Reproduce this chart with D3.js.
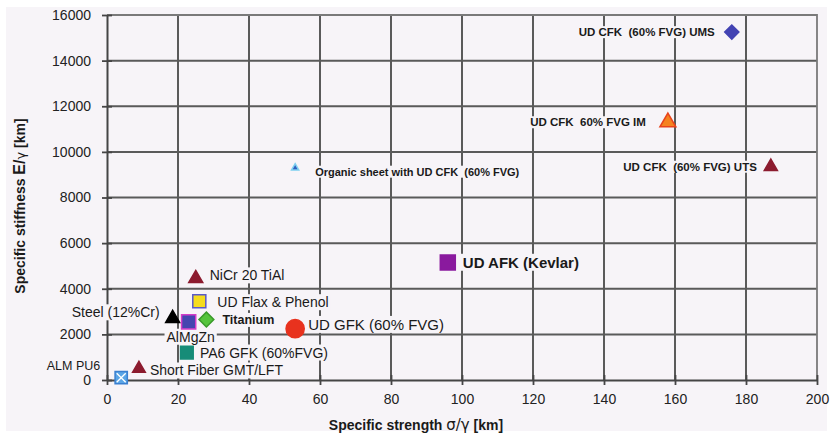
<!DOCTYPE html>
<html>
<head>
<meta charset="utf-8">
<script src="https://cdn.jsdelivr.net/npm/d3@7"></script>
<style>
  body { margin: 0; background: #ffffff; }
  svg text { font-family: "Liberation Sans", Arial, sans-serif; white-space: pre; }
</style>
</head>
<body>
<div id="chart"></div>
<script>
// SPECIFIC STIFFNESS vs SPECIFIC STRENGTH

// Data

var materials = ["UD CFK  (60% FVG) UMS", "UD CFK  60% FVG IM", "UD CFK  (60% FVG) UTS",
                 "Organic sheet with UD CFK  (60% FVG)", "UD AFK (Kevlar)", "NiCr 20 TiAl",
                 "UD Flax & Phenol", "Steel (12%Cr)", "AlMgZn", "Titanium", "UD GFK (60% FVG)",
                 "PA6 GFK (60%FVG)", "Short Fiber GMT/LFT", "ALM PU6"];
var strength  = [176, 158, 187, 53, 96, 25, 26, 18.5, 23, 28, 53, 22.5, 9, 4];          // sigma/gamma [km]
var stiffness = [15250, 11300, 9350, 9300, 5150, 4450, 3450, 2700, 2550, 2650, 2250, 1200, 500, 100]; // E/gamma [km]

var xTicks = [0, 20, 40, 60, 80, 100, 120, 140, 160, 180, 200];
var yTicks = [0, 2000, 4000, 6000, 8000, 10000, 12000, 14000, 16000];

// Marker + label styling (kept apart from the data)

var style = {
  "UD CFK  (60% FVG) UMS":              {shape: "diamond",  size: 100, fill: "#4343b3", stroke: "#4343b3", lx: -17, ly: 0,  anchor: "end",    font: 11.5, weight: "bold"},
  "UD CFK  60% FVG IM":                 {shape: "triangle", size: 110, fill: "#f5821f", stroke: "#e8431c", lx: -22, ly: 0,  anchor: "end",    font: 11.5, weight: "bold"},
  "UD CFK  (60% FVG) UTS":              {shape: "triangle", size: 75,  fill: "#8c1b2f", stroke: "#8c1b2f", lx: -14, ly: 0,  anchor: "end",    font: 11.5, weight: "bold"},
  "Organic sheet with UD CFK  (60% FVG)": {shape: "triangle", size: 22,  fill: "#2f5fc0", stroke: "#7fd0f0", lx: 20,  ly: 4,  anchor: "start",  font: 11, weight: "bold"},
  "UD AFK (Kevlar)":                    {shape: "square",   size: 225, fill: "#8a1a9e", stroke: "#8a1a9e", lx: 15,  ly: 0,  anchor: "start",  font: 15, weight: "bold"},
  "NiCr 20 TiAl":                       {shape: "triangle", size: 85,  fill: "#8c1b2f", stroke: "#8c1b2f", lx: 14,  ly: -3, anchor: "start",  font: 14, weight: "normal"},
  "UD Flax & Phenol":                   {shape: "square",   size: 170, fill: "#f5dc1e", stroke: "#5a5ac8", lx: 18,  ly: 1,  anchor: "start",  font: 14, weight: "normal"},
  "Steel (12%Cr)":                      {shape: "triangle", size: 85,  fill: "#000000", stroke: "#000000", lx: -13, ly: -6, anchor: "end",    font: 14, weight: "normal"},
  "AlMgZn":                             {shape: "square",   size: 200, fill: "#4545b0", stroke: "#d43cc8", lx: 2,   ly: 15, anchor: "middle", font: 14, weight: "normal"},
  "Titanium":                           {shape: "diamond",  size: 110, fill: "#55c43c", stroke: "#3a9a2a", lx: 16,  ly: 0,  anchor: "start",  font: 12.5, weight: "bold"},
  "UD GFK (60% FVG)":                   {shape: "circle",   size: 260, fill: "#e8321e", stroke: "#e8321e", lx: 13,  ly: -4, anchor: "start",  font: 15, weight: "normal"},
  "PA6 GFK (60%FVG)":                   {shape: "square",   size: 160, fill: "#168c78", stroke: "#168c78", lx: 13,  ly: 0,  anchor: "start",  font: 14, weight: "normal"},
  "Short Fiber GMT/LFT":                {shape: "triangle", size: 70,  fill: "#8c1b2f", stroke: "#8c1b2f", lx: 11,  ly: 2,  anchor: "start",  font: 14, weight: "normal"},
  "ALM PU6":                            {shape: "square",   size: 150, fill: "#5aa5e6", stroke: "#3a7fd0", lx: -21, ly: -12, anchor: "end",   font: 12.5, weight: "normal"}
};

var shapes = {
  diamond: d3.symbolSquare,      // rotated 45 degrees below
  square: d3.symbolSquare,
  triangle: d3.symbolTriangle,
  circle: d3.symbolCircle
};

// Chart variables

var W = 834, H = 435;
var margin = {top: 15, right: 17, bottom: 55, left: 107};
var width = W - margin.left - margin.right;
var height = H - margin.top - margin.bottom;
var bg = "#f7f4f8";

var data = materials.map(function(m, i) {
  return {name: m, s: strength[i], e: stiffness[i]};
});

var svg = d3.select("#chart").append("svg")
    .attr("width", W)
    .attr("height", H);

// Figure background
svg.append("rect")
    .attr("x", 6).attr("y", 7)
    .attr("width", 821).attr("height", 424)
    .attr("fill", bg);

var chart = svg.append("g")
    .attr("transform", "translate(" + margin.left + "," + margin.top + ")");

// Scales

var x = d3.scaleLinear().domain([0, 200]).range([0, width]);
var y = d3.scaleLinear().domain([0, 16000]).range([height, 0]);

// Grid

chart.append("g")
    .selectAll("line")
    .data(xTicks.slice(1, -1))
    .enter().append("line")
    .attr("x1", function(d) { return x(d); })
    .attr("x2", function(d) { return x(d); })
    .attr("y1", 0).attr("y2", height)
    .attr("stroke", "#5a5a5a")
    .attr("stroke-width", 2);

chart.append("g")
    .selectAll("line")
    .data(yTicks.slice(1, -1))
    .enter().append("line")
    .attr("x1", 0).attr("x2", width)
    .attr("y1", function(d) { return y(d); })
    .attr("y2", function(d) { return y(d); })
    .attr("stroke", "#5a5a5a")
    .attr("stroke-width", 2);

// Border (top / right)
chart.append("path")
    .attr("d", "M0,0H" + width + "V" + height)
    .attr("fill", "none")
    .attr("stroke", "#7a7a7a")
    .attr("stroke-width", 1.8);

// Axes

var xAxis = chart.append("g")
    .attr("transform", "translate(0," + height + ")")
    .call(d3.axisBottom(x).tickValues(xTicks).tickFormat(d3.format("d"))
            .tickSize(5).tickSizeOuter(0).tickPadding(9));

var yAxis = chart.append("g")
    .call(d3.axisLeft(y).tickValues(yTicks).tickFormat(d3.format("d"))
            .tickSize(5).tickSizeOuter(0).tickPadding(11));

[xAxis, yAxis].forEach(function(a) {
  a.select(".domain").attr("stroke", "#454545").attr("stroke-width", 2);
  a.selectAll(".tick line").attr("stroke", "#454545").attr("stroke-width", 1.8);
  a.selectAll(".tick text")
    .attr("fill", "#222")
    .style("font-size", "14px")
    .style("font-family", "'Liberation Sans', Arial, sans-serif");
});
// ticks cross the axis lines
xAxis.selectAll(".tick line").attr("y1", -5);
yAxis.selectAll(".tick line").attr("x1", 5);

// Labels (with background boxes that hide the grid)

var labels = chart.append("g");
data.forEach(function(d) {
  var st = style[d.name];
  var g = labels.append("g");
  var t = g.append("text")
      .attr("x", x(d.s) + st.lx)
      .attr("y", y(d.e) + st.ly)
      .attr("dy", "0.35em")
      .attr("text-anchor", st.anchor)
      .attr("fill", "#1a1a1a")
      .style("font-size", st.font + "px")
      .style("font-weight", st.weight)
      .text(d.name);
  var b = t.node().getBBox();
  g.insert("rect", "text")
      .attr("x", b.x - 2).attr("y", b.y)
      .attr("width", b.width + 4).attr("height", b.height)
      .attr("fill", bg);
});

// Markers

var marks = chart.append("g");
data.forEach(function(d) {
  var st = style[d.name];
  var rot = st.shape === "diamond" ? " rotate(45)" : "";
  marks.append("path")
      .attr("d", d3.symbol().type(shapes[st.shape]).size(st.size)())
      .attr("transform", "translate(" + x(d.s) + "," + y(d.e) + ")" + rot)
      .attr("fill", st.fill)
      .attr("stroke", st.stroke)
      .attr("stroke-width", 1.5);
  if (d.name === "ALM PU6") {                                  // cross inside the square
    var h = 4.5;
    marks.append("path")
        .attr("d", "M" + (-h) + "," + (-h) + "L" + h + "," + h + "M" + h + "," + (-h) + "L" + (-h) + "," + h)
        .attr("transform", "translate(" + x(d.s) + "," + y(d.e) + ")")
        .attr("stroke", "#ffffff")
        .attr("stroke-width", 1.3);
  }
});

// Axis titles

var xt = svg.append("text")
    .attr("x", 416).attr("y", 430)
    .attr("text-anchor", "middle")
    .attr("fill", "#1a1a1a")
    .style("font-size", "14px")
    .style("font-weight", "bold");
xt.append("tspan").text("Specific strength ");
xt.append("tspan").style("font-weight", "normal").style("font-family", "'DejaVu Sans', sans-serif").style("font-size", "15px").text("σ/γ");
xt.append("tspan").text(" [km]");

var yt = svg.append("text")
    .attr("transform", "translate(25,206) rotate(-90)")
    .attr("text-anchor", "middle")
    .attr("fill", "#1a1a1a")
    .style("font-size", "14px")
    .style("font-weight", "bold");
yt.append("tspan").text("Specific stiffness ");
yt.append("tspan").style("font-size", "16px").text("E/");
yt.append("tspan").style("font-weight", "normal").style("font-family", "'DejaVu Sans', sans-serif").style("font-size", "13px").text("γ");
yt.append("tspan").text(" [km]");
</script>
</body>
</html>
